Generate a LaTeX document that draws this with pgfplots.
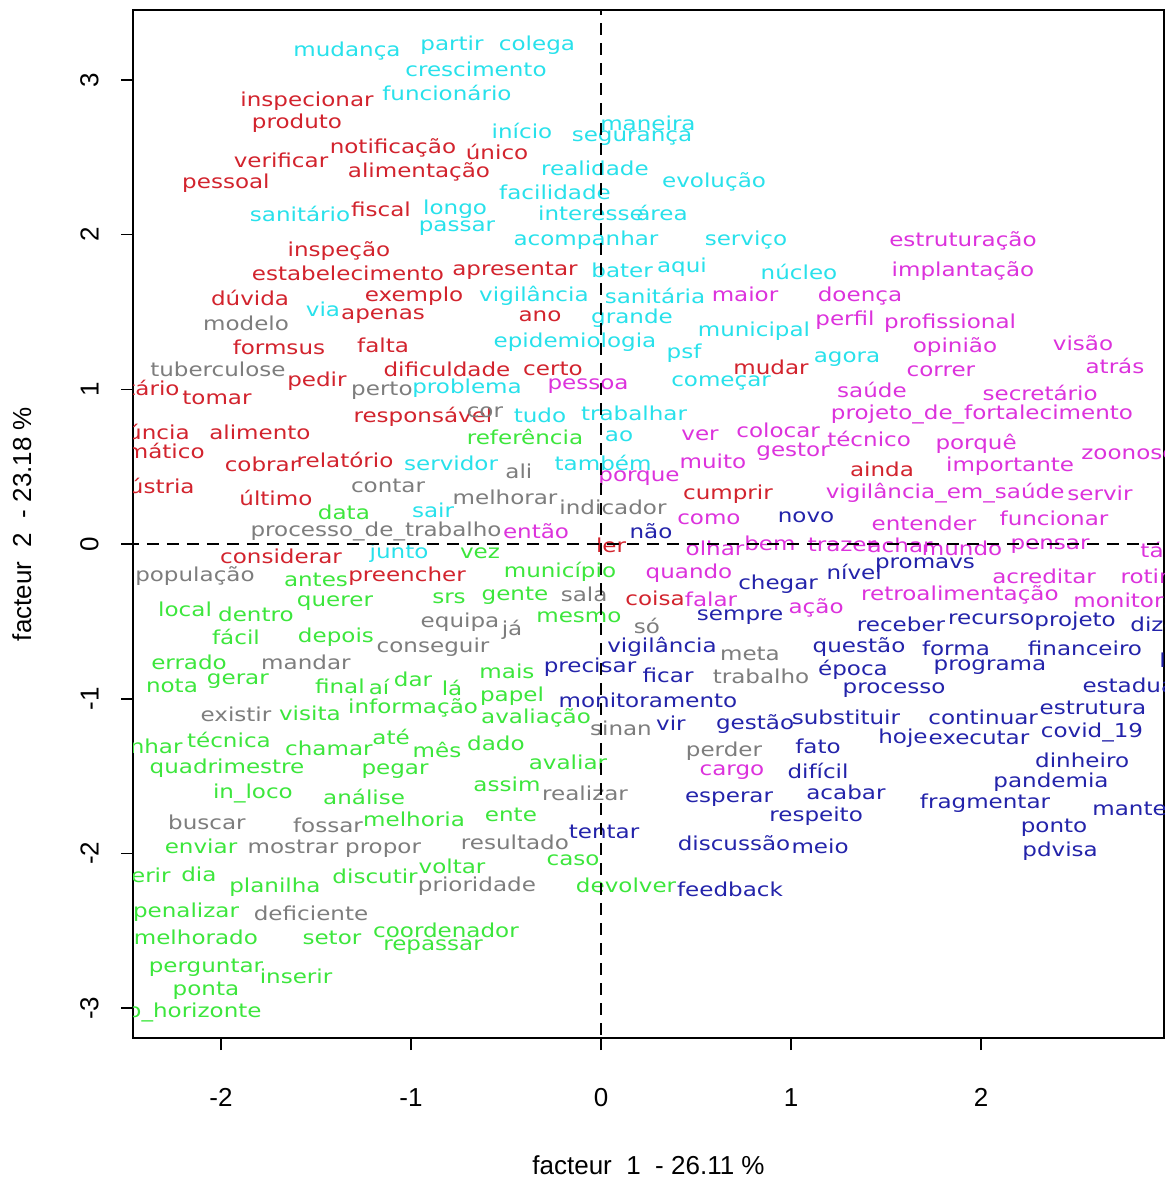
\documentclass[border=0pt]{standalone}
\usepackage{pgfplots}
\pgfplotsset{compat=1.18}
\usepackage{fontspec}
\setmainfont{Liberation Sans}
\newfontfamily\wordfont[FakeStretch=1.2]{DejaVu Sans}
\definecolor{cy}{RGB}{40,225,235}
\definecolor{rd}{RGB}{210,35,45}
\definecolor{gy}{RGB}{125,125,125}
\definecolor{gn}{RGB}{60,230,60}
\definecolor{bl}{RGB}{35,35,170}
\definecolor{mg}{RGB}{220,50,220}
\pgfplotsset{words/.style={draw=none, mark=none, nodes near coords, point meta=explicit symbolic,
  nodes near coords align={center},
  every node near coord/.append style={anchor=center, inner sep=0pt, font={\wordfont\fontsize{9.6pt}{11pt}\selectfont}, text=#1}},
  wordsE/.style={words=#1, every node near coord/.append style={anchor=east}},
  wordsW/.style={words=#1, every node near coord/.append style={anchor=west}}}
\begin{document}
\begin{tikzpicture}
\useasboundingbox (0,0) rectangle (586pt,590.5pt);
\begin{axis}[
  at={(66.5pt,71.5pt)}, anchor=south west,
  width=515.5pt, height=514pt, scale only axis,
  xmin=-2.463, xmax=2.963, ymin=-3.193, ymax=3.452,
  clip marker paths=true,
  axis line style={line width=0.8pt},
  tick style={black, line width=0.8pt},
  major tick length=6pt, tick align=outside, tick pos=left,
  xtick={-2,-1,0,1,2}, xticklabels={-2,-1,0,1,2},
  ytick={-3,-2,-1,0,1,2,3}, yticklabels={-3,-2,-1,0,1,2,3},
  ticklabel style={font=\fontsize{13pt}{15pt}\selectfont},
  xticklabel style={anchor=north, inner sep=0pt},
  yticklabel style={rotate=90, anchor=south, inner sep=0pt},
  xticklabel shift=19pt, yticklabel shift=11pt,
  xlabel={facteur~~1~~-~26.11~\%}, ylabel={facteur~~2~~-~23.18~\%},
  label style={font=\fontsize{13pt}{15pt}\selectfont},
  xlabel style={at={(axis description cs:0.5,-0.1235)}, anchor=center},
  ylabel style={at={(axis description cs:-0.1077,0.5)}, anchor=center},
]
% cyan cluster
\addplot[words=cy] table[meta=w] {
x y w
-1.337 3.187 mudança
-0.784 3.226 partir
-0.337 3.226 colega
-0.658 3.070 crescimento
-0.811 2.915 funcionário
-0.416 2.670 início
0.247 2.721 maneira
0.163 2.624 segurança
-0.032 2.431 realidade
0.595 2.340 evolução
-0.242 2.275 facilidade
-1.584 2.133 sanitário
-0.768 2.165 longo
-0.758 2.043 passar
-0.053 2.140 interesse
0.321 2.140 área
-0.079 1.965 acompanhar
0.763 1.965 serviço
0.111 1.771 bater
0.426 1.791 aqui
1.042 1.758 núcleo
-0.353 1.603 vigilância
0.284 1.603 sanitária
0.163 1.461 grande
-0.137 1.306 epidemiologia
0.805 1.377 municipal
0.437 1.235 psf
1.295 1.196 agora
0.632 1.041 começar
-0.705 1.008 problema
-1.463 1.519 via
-0.321 0.834 tudo
0.174 0.847 trabalhar
0.095 0.698 ao
-0.789 0.524 servidor
0.011 0.524 também
-0.884 0.220 sair
-1.063 -0.058 junto
};
% red cluster
\addplot[words=rd] table[meta=w] {
x y w
-1.547 2.864 inspecionar
-1.600 2.721 produto
-1.095 2.560 notificação
-0.547 2.534 único
-1.684 2.482 verificar
-0.958 2.405 alimentação
-1.974 2.334 pessoal
-1.158 2.165 fiscal
-1.379 1.894 inspeção
-1.332 1.752 estabelecimento
-0.453 1.765 apresentar
-1.847 1.590 dúvida
-0.984 1.603 exemplo
-1.147 1.474 apenas
-0.321 1.474 ano
-1.695 1.273 formsus
-1.147 1.286 falta
-0.811 1.131 dificuldade
-0.253 1.131 certo
-1.495 1.054 pedir
-2.021 0.944 tomar
-0.937 0.821 responsável
-1.795 0.724 alimento
-1.784 0.517 cobrar
-1.347 0.543 relatório
-1.711 0.297 último
-1.684 -0.078 considerar
-1.021 -0.207 preencher
0.053 -0.006 ler
0.895 1.144 mudar
0.284 -0.349 coisa
0.668 0.323 cumprir
1.479 0.485 ainda
};
% red words cut at the left edge (placed by their right end)
\addplot[wordsE=rd] table[meta=w] {
x y w
-2.216 0.995 proprietário
-2.163 0.724 denúncia
-2.084 0.601 sistemático
-2.137 0.375 indústria
};
% gray cluster
\addplot[words=gy] table[meta=w] {
x y w
-1.868 1.429 modelo
-2.016 1.131 tuberculose
-1.153 0.989 perto
-0.611 0.853 cor
-0.432 0.472 ali
-1.121 0.375 contar
-0.505 0.304 melhorar
0.063 0.239 indicador
-1.184 0.084 processo\_de\_trabalho
-2.137 -0.207 população
-0.742 -0.504 equipa
-0.468 -0.556 já
-0.884 -0.666 conseguir
-1.553 -0.763 mandar
-0.089 -0.323 sala
0.242 -0.530 só
0.784 -0.711 meta
0.842 -0.853 trabalho
-1.921 -1.099 existir
0.105 -1.189 sinan
0.647 -1.338 perder
-0.084 -1.610 realizar
-2.074 -1.797 buscar
-1.437 -1.816 fossar
-1.621 -1.959 mostrar
-1.147 -1.978 propor
-0.453 -1.926 resultado
-0.653 -2.211 prioridade
-1.526 -2.385 deficiente
};
% green cluster
\addplot[words=gn] table[meta=w] {
x y w
-0.400 0.692 referência
-1.353 0.207 data
-0.637 -0.058 vez
-1.500 -0.233 antes
-0.216 -0.181 município
-2.189 -0.420 local
-1.816 -0.452 dentro
-1.400 -0.381 querer
-0.800 -0.349 srs
-0.453 -0.336 gente
-0.116 -0.472 mesmo
-1.921 -0.601 fácil
-1.395 -0.601 depois
-2.168 -0.763 errado
-2.258 -0.918 nota
-1.911 -0.886 gerar
-1.374 -0.918 final
-1.168 -0.924 aí
-0.989 -0.873 dar
-0.784 -0.931 lá
-0.495 -0.821 mais
-0.468 -0.983 papel
-0.989 -1.060 informação
-0.342 -1.125 avaliação
-1.532 -1.092 visita
-1.958 -1.267 técnica
-1.432 -1.319 chamar
-1.105 -1.248 até
-0.863 -1.332 mês
-0.553 -1.286 dado
-1.968 -1.448 quadrimestre
-1.084 -1.467 pegar
-0.174 -1.409 avaliar
-0.495 -1.551 assim
-1.832 -1.610 in\_loco
-1.247 -1.635 análise
-0.984 -1.778 melhoria
-0.474 -1.752 ente
-2.105 -1.952 enviar
-2.116 -2.133 dia
-1.716 -2.217 planilha
-1.189 -2.146 discutir
-0.784 -2.081 voltar
-0.147 -2.043 caso
0.132 -2.204 devolver
-2.184 -2.379 penalizar
-2.132 -2.540 melhorado
-1.416 -2.547 setor
-0.816 -2.495 coordenador
-0.884 -2.605 repassar
-2.079 -2.741 perguntar
-1.605 -2.793 inserir
-2.079 -2.889 ponta
};
% green words cut at the left edge (placed by their right end)
\addplot[wordsE=gn] table[meta=w] {
x y w
-2.200 -1.306 encaminhar
-2.263 -2.140 conferir
-1.784 -3.025 belo\_horizonte
};
% blue cluster
\addplot[words=bl] table[meta=w] {
x y w
0.263 0.084 não
1.079 0.175 novo
0.932 -0.259 chegar
1.332 -0.181 nível
1.705 -0.136 promavs
0.732 -0.472 sempre
1.579 -0.517 receber
2.053 -0.485 recurso
2.495 -0.498 projeto
0.321 -0.666 vigilância
-0.058 -0.795 precisar
0.353 -0.847 ficar
1.358 -0.666 questão
1.868 -0.672 forma
2.547 -0.672 financeiro
1.326 -0.814 época
2.047 -0.795 programa
0.247 -1.008 monitoramento
1.542 -0.944 processo
0.368 -1.157 vir
0.811 -1.164 gestão
1.289 -1.118 substituir
2.011 -1.118 continuar
2.589 -1.060 estrutura
1.589 -1.254 hoje
1.989 -1.254 executar
2.584 -1.215 covid\_19
1.142 -1.306 fato
2.532 -1.396 dinheiro
1.142 -1.467 difícil
2.368 -1.538 pandemia
0.674 -1.648 esperar
1.289 -1.603 acabar
2.021 -1.674 fragmentar
1.132 -1.758 respeito
2.384 -1.836 ponto
0.016 -1.862 tentar
0.700 -1.933 discussão
1.153 -1.952 meio
2.416 -1.985 pdvisa
0.679 -2.230 feedback
};
% blue words cut at the right edge (placed by their left end)
\addplot[wordsW=bl] table[meta=w] {
x y w
2.784 -0.517 dizer
2.532 -0.911 estadual
2.937 -0.750 lei
2.584 -1.713 manter
};
% magenta cluster
\addplot[words=mg] table[meta=w] {
x y w
1.905 1.959 estruturação
1.905 1.765 implantação
0.758 1.616 maior
1.363 1.603 doença
1.284 1.448 perfil
1.837 1.429 profissional
1.863 1.273 opinião
2.537 1.299 visão
1.789 1.118 correr
2.705 1.151 atrás
1.426 0.995 saúde
2.311 0.976 secretário
0.932 0.737 colocar
2.005 0.840 projeto\_de\_fortalecimento
0.521 0.705 ver
1.411 0.679 técnico
1.974 0.646 porquê
1.011 0.595 gestor
0.589 0.537 muito
2.153 0.504 importante
-0.068 1.021 pessoa
0.200 0.427 porque
1.811 0.330 vigilância\_em\_saúde
2.626 0.330 servir
1.700 0.136 entender
2.384 0.168 funcionar
0.568 0.162 como
-0.342 0.084 então
0.600 -0.026 olhar
0.889 0.006 bem
1.268 -0.006 trazer
1.574 -0.006 achar
1.900 -0.026 mundo
2.363 -0.013 pensar
2.332 -0.207 acreditar
1.889 -0.330 retroalimentação
1.132 -0.414 ação
0.463 -0.187 quando
0.579 -0.356 falar
0.689 -1.474 cargo
};
% magenta words cut at the right edge (placed by their left end)
\addplot[wordsW=mg] table[meta=w] {
x y w
2.526 0.582 zoonoses
2.837 -0.039 tá
2.732 -0.207 rotina
2.484 -0.362 monitorar
};
\addplot[black, line width=1pt, dash pattern=on 6pt off 4pt] coordinates {(0,-3.3) (0,3.5)};
\addplot[black, line width=1pt, dash pattern=on 6pt off 4pt] coordinates {(-2.6,0) (3.1,0)};
\end{axis}
\end{tikzpicture}
\end{document}
